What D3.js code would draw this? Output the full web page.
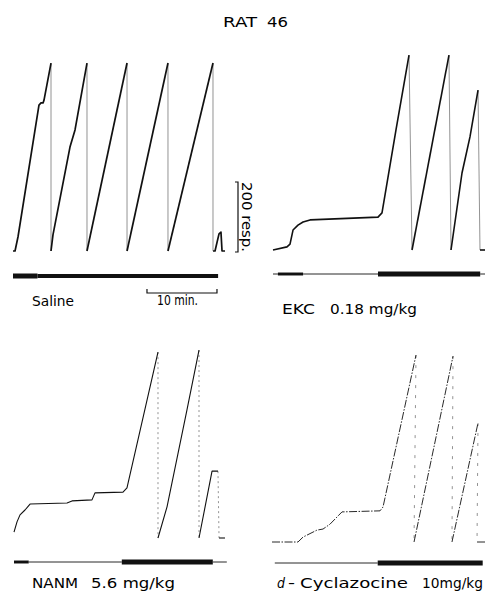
<!DOCTYPE html>
<html>
<head>
<meta charset="utf-8">
<script src="https://cdnjs.cloudflare.com/ajax/libs/d3/7.8.5/d3.min.js"></script>
<style>
  body { margin: 0; background: #fff; }
  svg { display: block; }
  text { font-family: "DejaVu Sans", "Liberation Sans", Arial, sans-serif; fill: #000; }
</style>
</head>
<body>
<div class="chart"></div>
<script>
// cumulative records: [minutes, responses since last pen reset]
var saline = [[0,0],[0.29,0],[0.71,40],[3.71,417],[4.0,423],[4.29,423],[4.43,431],[5.43,537],
  [5.43,0],[5.71,46],[8.14,297],[8.86,346],[10.57,537],
  [10.57,0],[16.29,537],
  [16.29,0],[22.14,537],
  [22.14,0],[28.57,537],
  [28.57,0],[28.86,0],[29.43,49],[29.71,54],[29.86,0],[30.29,0]];
var ekc = [[0,0],[2.0,9],[2.43,17],[2.86,57],[3.57,71],[4.29,80],[5.29,86],[15.0,94],[15.57,106],[17.57,343],[19.43,557],
  [19.86,0],[25.14,557],
  [25.43,0],[27.0,220],[28.14,323],[29.29,457],
  [29.57,0],[30.29,0]];
var nanm = [[0,17],[0.43,46],[0.86,66],[1.57,80],[2.29,97],[7.57,100],[8.29,106],[11.14,109],[11.57,129],[15.57,131],[16.14,143],[20.57,531],
  [20.57,0],[21.86,89],[24.71,366],[26.43,537],
  [26.43,0],[28.29,191],[29.14,191],[29.29,0],[30.14,0]];
var cyclazocine = [[0,0],[3.71,0],[4.43,14],[6.43,34],[7.29,37],[8.29,51],[10.0,86],[15.43,89],[15.86,100],[20.57,534],
  [20.29,0],[25.86,531],
  [25.71,0],[29.43,340],
  [29.29,0],[30.43,0]];

// event pen: [start min, end min, density 0..4]
var salineEvents = [[0,3.5,4],[3.5,29.3,3]];
var ekcEvents = [[0,0.7,0],[0.7,4.3,2],[4.3,15,0],[15,29.6,4],[29.6,30.3,0]];
var nanmEvents = [[0,2.1,2],[2.1,15.4,0],[15.4,28.4,4],[28.4,30.4,0]];
var cyclazocineEvents = [[0.4,15.1,0],[15.1,30.1,4]];

var title = "RAT 46";
var drugs = ["Saline", "EKC", "NANM", "Cyclazocine"];
var doses = ["", "0.18 mg/kg", "5.6 mg/kg", "10mg/kg"];
var respBar = 200, minBar = 10;

var width = 485, height = 600;
var svg = d3.select(".chart").append("svg")
  .attr("width", width).attr("height", height);

var panels = [
  {rec: saline, ev: salineEvents, left: 13, base: 251, evY: 276, ramp: 1.7, dash: "none", reset: "none"},
  {rec: ekc, ev: ekcEvents, left: 273, base: 250, evY: 274, ramp: 1.6, dash: "none", reset: "none"},
  {rec: nanm, ev: nanmEvents, left: 14, base: 538, evY: 562, ramp: 1.1, dash: "none", reset: "2,3"},
  {rec: cyclazocine, ev: cyclazocineEvents, left: 272, base: 542, evY: 563, ramp: 0.9, dash: "8,1.5,1.5,1.5", reset: "3,7"}
];

var evWidth = d3.scaleLinear().domain([0, 4]).range([0.9, 5]);

panels.forEach(function (p) {
  var x = d3.scaleLinear().domain([0, 30]).range([p.left, p.left + 210]);
  var y = d3.scaleLinear().domain([0, 200]).range([p.base, p.base - 70]);
  p.x = x; p.y = y;
  var g = svg.append("g");

  // split into ramps and resets
  var runs = [], cur = [p.rec[0]], resets = [];
  for (var i = 1; i < p.rec.length; i++) {
    var a = p.rec[i - 1], b = p.rec[i];
    if (a[1] - b[1] > 100) {
      resets.push([a, b]);
      runs.push(cur);
      cur = [b];
    } else {
      cur.push(b);
    }
  }
  runs.push(cur);

  var line = d3.line().x(function (d) { return x(d[0]); }).y(function (d) { return y(d[1]); });

  g.selectAll(".reset").data(resets).enter().append("path")
    .attr("class", "reset")
    .attr("d", line)
    .attr("fill", "none")
    .attr("stroke", "#777")
    .attr("stroke-width", 0.8)
    .attr("stroke-dasharray", p.reset);

  g.selectAll(".ramp").data(runs).enter().append("path")
    .attr("class", "ramp")
    .attr("d", line)
    .attr("fill", "none")
    .attr("stroke", "#111")
    .attr("stroke-width", p.ramp)
    .attr("stroke-dasharray", p.dash)
    .attr("stroke-linejoin", "round");

  g.selectAll(".ev").data(p.ev).enter().append("line")
    .attr("class", "ev")
    .attr("x1", function (d) { return x(d[0]); })
    .attr("x2", function (d) { return x(d[1]); })
    .attr("y1", p.evY).attr("y2", p.evY)
    .attr("stroke", "#111")
    .attr("stroke-width", function (d) { return evWidth(d[2]); });
});

// scale bars on the saline record
var s = panels[0];
var bx = 238, by0 = s.y(0) + 1, by1 = s.y(respBar) + 1;
svg.append("path")
  .attr("d", "M" + (bx - 3) + "," + by1 + "H" + bx + "V" + by0 + "H" + (bx - 3))
  .attr("fill", "none").attr("stroke", "#111").attr("stroke-width", 1.2);
svg.append("text")
  .attr("transform", "translate(242," + by1 + ") rotate(90)")
  .attr("font-size", 13.5)
  .attr("textLength", by0 - by1).attr("lengthAdjust", "spacingAndGlyphs")
  .text(respBar + " resp.");

var mx0 = s.x(19.14), mx1 = s.x(19.14 + minBar);
svg.append("path")
  .attr("d", "M" + mx0 + ",289V293H" + mx1 + "V289")
  .attr("fill", "none").attr("stroke", "#111").attr("stroke-width", 1.2);

function label(str, x, y, w, italic) {
  var t = svg.append("text")
    .attr("x", x).attr("y", y)
    .attr("font-size", 13.5)
    .attr("textLength", w).attr("lengthAdjust", "spacingAndGlyphs")
    .text(str);
  if (italic) t.attr("font-style", "italic");
  return t;
}

label(title.split(" ")[0], 223, 27, 34);
label(title.split(" ")[1], 267, 27, 21);
label(minBar + " min.", 157, 305, 41);
label(drugs[0], 32, 306, 42);
label(drugs[1], 282, 314, 33);
label(doses[1], 330, 314, 87);
label(drugs[2], 32, 588, 46);
label(doses[2], 91, 588, 84);
label("d", 277, 588, 8, true);
label("-", 288, 588, 7);
label(drugs[3], 300, 588, 108);
label(doses[3], 422, 588, 61);
</script>
</body>
</html>
